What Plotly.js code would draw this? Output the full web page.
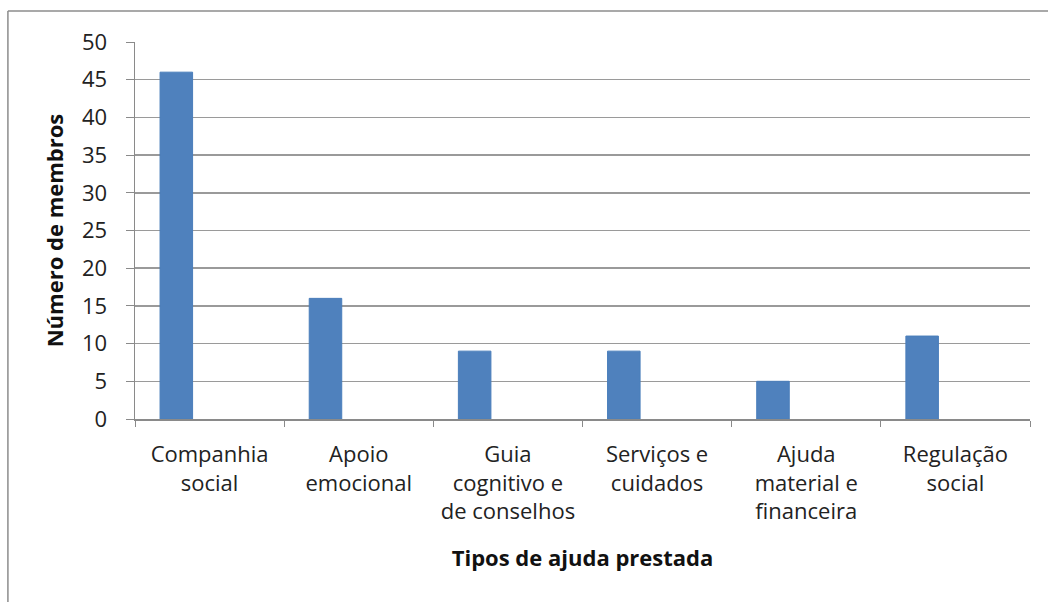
<!DOCTYPE html>
<html>
<head>
<meta charset="utf-8">
<script src="https://cdn.plot.ly/plotly-3.0.1.min.js"></script>
<style>
html,body{margin:0;padding:0;background:#fff;}
#chart{width:1048px;height:602px;}
</style>
</head>
<body>
<div id="chart"></div>
<script>
const categories = [
  "Companhia<br>social",
  "Apoio<br>emocional",
  "Guia<br>cognitivo e<br>de conselhos",
  "Serviços e<br>cuidados",
  "Ajuda<br>material e<br>financeira",
  "Regulação<br>social"
];
const members = [46, 16, 9, 9, 5, 11];
const yTitle = "Número de membros";
const xTitle = "Tipos de ajuda prestada";

const font = "'Open Sans', 'Liberation Sans', sans-serif";

const trace = {
  type: "bar",
  x: categories,
  y: members,
  width: 0.218,
  offset: -0.332,
  marker: {color: "#4f81bd", line: {color: "#4a7ebb", width: 1}},
  hoverinfo: "x+y"
};

const layout = {
  width: 1048,
  height: 602,
  margin: {l: 135, r: 18, t: 42, b: 183},
  paper_bgcolor: "#ffffff",
  plot_bgcolor: "#ffffff",
  showlegend: false,
  font: {family: font, size: 20, color: "#222"},
  xaxis: {
    type: "category",
    showgrid: false,
    showline: true,
    linecolor: "#8a8a8a",
    linewidth: 1.5,
    ticks: "outside",
    tickson: "boundaries",
    ticklen: 6,
    tickcolor: "#8a8a8a",
    tickfont: {family: font, size: 22, color: "#222"},
    ticklabelstandoff: 15,
    tickangle: 0,
    title: {text: "<b>" + xTitle + "</b>", font: {family: font, size: 22, color: "#111"}, standoff: 26},
    fixedrange: true
  },
  yaxis: {
    range: [0, 50],
    dtick: 5,
    tick0: 0,
    showgrid: true,
    gridcolor: "#9a9a9a",
    gridwidth: 1.5,
    zeroline: false,
    showline: true,
    linecolor: "#8a8a8a",
    linewidth: 1.5,
    ticks: "outside",
    ticklen: 8,
    tickcolor: "#8a8a8a",
    tickfont: {family: font, size: 22, color: "#222"},
    ticklabelstandoff: 14,
    title: {text: "<b>" + yTitle + "</b>", font: {family: font, size: 22, color: "#111"}, standoff: 12},
    fixedrange: true
  },
  shapes: [
    {type: "line", xref: "paper", yref: "paper", x0: -0.142, x1: 1.03, y0: 1.082, y1: 1.082,
     line: {color: "#8c8c8c", width: 1.5}},
    {type: "line", xref: "paper", yref: "paper", x0: -0.142, x1: -0.142, y0: 1.082, y1: -0.5,
     line: {color: "#8c8c8c", width: 1.5}}
  ]
};

Plotly.newPlot("chart", [trace], layout, {displayModeBar: false, staticPlot: true});
</script>
</body>
</html>
